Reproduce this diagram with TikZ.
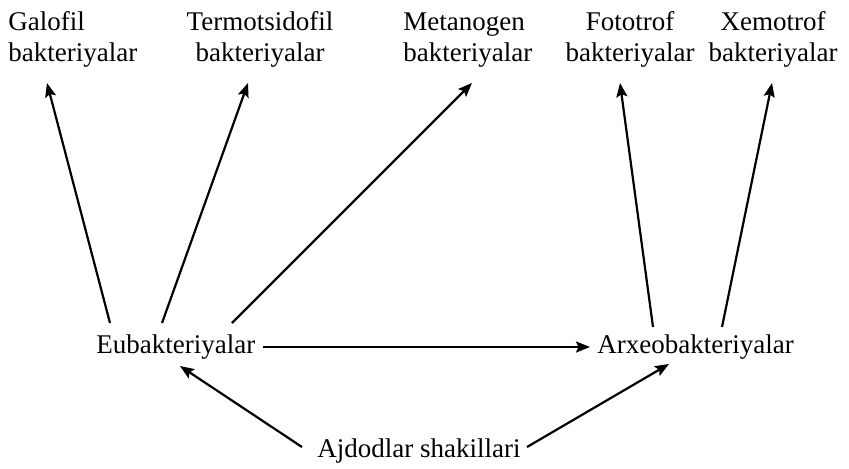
\documentclass[tikz,border=0pt]{standalone}
\usepackage{fontspec}
\setmainfont{Liberation Serif}
\usetikzlibrary{calc,arrows.meta}
\begin{document}
\begin{tikzpicture}[x=0.5pt,y=-0.5pt,
  lbl/.style={inner sep=0pt,font=\fontsize{13.5}{15.5}\selectfont},
  arr/.style={line width=1.1pt,-{Stealth[length=7pt,width=5.5pt,inset=1.3pt]}}]
\useasboundingbox (0,0) rectangle (849,468);
% top nodes
\node[lbl,align=left,anchor=base west] (gal) at (8,61) {Galofil\\bakteriyalar};
\node[lbl,align=center,anchor=base] (term) at (260,61) {Termotsidofil\\bakteriyalar};
\node[lbl,align=left,anchor=base west] (met) at (403,61) {Metanogen\\bakteriyalar};
\node[lbl,align=center,anchor=base] (foto) at (630,61) {Fototrof\\bakteriyalar};
\node[lbl,align=center,anchor=base] (xemo) at (773,61) {Xemotrof\\bakteriyalar};
% middle
\node[lbl,anchor=base west] (eu) at (96,353) {Eubakteriyalar};
\node[lbl,anchor=base west] (arx) at (597,353) {Arxeobakteriyalar};
% bottom
\node[lbl,anchor=base west] (ajd) at (317,457) {Ajdodlar shakillari};
% arrows
\draw[arr] ($(eu.base west)+(14,-30)$) -- ($(gal.base west)+(39,22)$);
\draw[arr] ($(eu.base west)+(66,-30)$) -- ($(term.base)+(-12,22)$);
\draw[arr] ($(eu.base west)+(136,-30)$) -- ($(met.base west)+(69,22)$);
\draw[arr] ($(arx.base west)+(56,-26)$) -- ($(foto.base)+(-10,22)$);
\draw[arr] ($(arx.base west)+(125,-26)$) -- ($(xemo.base)+(-1,22)$);
\draw[arr] ($(eu.base west)+(167,-6)$) -- ($(arx.base west)+(-7,-6)$);
\draw[arr] ($(ajd.base west)+(-15,-10)$) -- ($(eu.base west)+(84,13)$);
\draw[arr] ($(ajd.base west)+(210,-10)$) -- ($(arx.base west)+(72,11)$);
\end{tikzpicture}
\end{document}
